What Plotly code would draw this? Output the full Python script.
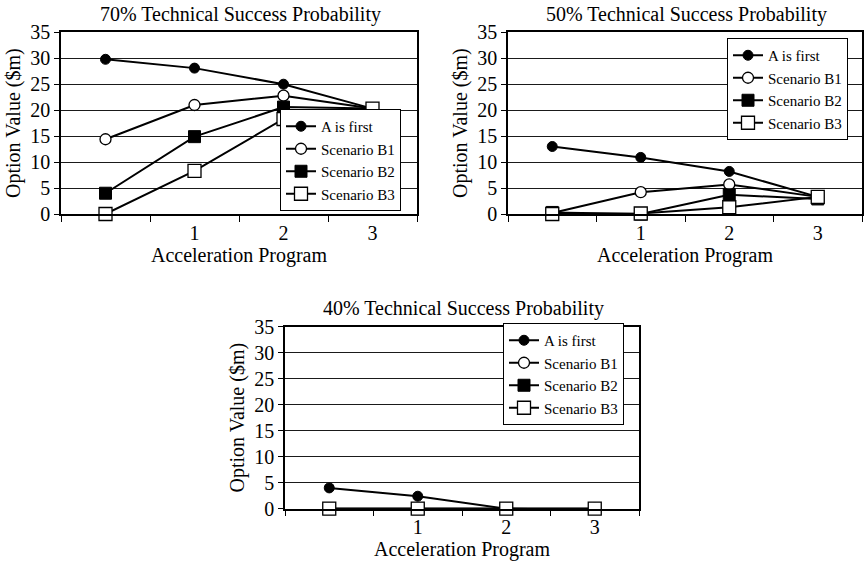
import plotly.graph_objects as go

programs = ["0", "1", "2", "3"]
program_labels = ["", "1", "2", "3"]
series_names = ["A is first", "Scenario B1", "Scenario B2", "Scenario B3"]

titles = ["70% Technical Success Probability",
          "50% Technical Success Probability",
          "40% Technical Success Probability"]

p70_a = [29.8, 28.1, 25.0, 20.3]
p70_b1 = [14.4, 21.0, 22.8, 20.3]
p70_b2 = [4.0, 14.9, 20.6, 20.3]
p70_b3 = [0.0, 8.3, 18.3, 20.3]

p50_a = [13.0, 10.9, 8.2, 3.3]
p50_b1 = [0.2, 4.2, 5.7, 3.3]
p50_b2 = [0.3, 0.0, 3.7, 2.9]
p50_b3 = [0.0, 0.1, 1.3, 3.3]

p40_a = [4.0, 2.4, 0.0, 0.0]
p40_b1 = [0.0, 0.0, 0.0, 0.0]
p40_b2 = [0.0, 0.0, 0.0, -0.2]
p40_b3 = [0.0, 0.0, 0.0, 0.0]

panels = [
    [p70_a, p70_b1, p70_b2, p70_b3],
    [p50_a, p50_b1, p50_b2, p50_b3],
    [p40_a, p40_b1, p40_b2, p40_b3],
]

W, H = 864, 562
FONT = "Liberation Serif, Times New Roman, serif"
FS = 20

# pixel boxes of plot areas: (left, right, top, bottom)
boxes = [(61, 417, 32.3, 214), (508, 862, 32.3, 214), (285, 639, 326.7, 508.7)]
# legend anchors: (x_left, y, yanchor)
legend_pos = [(280, 211, "bottom"), (727, 38, "top"), (503, 323, "top")]
title_pos = [(240, 14), (686, 14), (463, 308)]

marker_styles = [
    dict(symbol="circle", size=10, color="black", line=dict(color="black", width=1)),
    dict(symbol="circle", size=11, color="white", line=dict(color="black", width=1.3)),
    dict(symbol="square", size=12, color="black", line=dict(color="black", width=1)),
    dict(symbol="square", size=13, color="white", line=dict(color="black", width=1.3)),
]

fig = go.Figure()
layout = dict(width=W, height=H,
              margin=dict(l=0, r=0, t=0, b=0, autoexpand=False),
              paper_bgcolor="white", plot_bgcolor="white",
              font=dict(family=FONT, size=FS, color="black"),
              annotations=[], showlegend=True)

for i, (vals, box) in enumerate(zip(panels, boxes)):
    xa = "x" if i == 0 else f"x{i+1}"
    ya = "y" if i == 0 else f"y{i+1}"
    lkey = "legend" if i == 0 else f"legend{i+1}"
    for j, (name, v) in enumerate(zip(series_names, vals)):
        fig.add_trace(go.Scatter(
            x=programs, y=v, name=name, mode="lines+markers",
            xaxis=xa, yaxis=ya, legend=lkey,
            line=dict(color="black", width=2),
            marker=marker_styles[j], cliponaxis=False,
        ))
    l, r, t, b = box
    xkey = "xaxis" if i == 0 else f"xaxis{i+1}"
    ykey = "yaxis" if i == 0 else f"yaxis{i+1}"
    layout[xkey] = dict(
        domain=[l / W, r / W], anchor=ya, type="category",
        categoryorder="array", categoryarray=programs,
        tickmode="array", tickvals=programs, ticktext=program_labels,
        tickson="boundaries", ticks="outside", ticklen=6, tickcolor="black",
        showline=True, linecolor="black", linewidth=1.5, mirror=True,
        showgrid=False, zeroline=False, range=[-0.5, 3.5],
        tickfont=dict(family=FONT, size=FS), automargin=False,
        title=dict(text="Acceleration Program", font=dict(family=FONT, size=FS), standoff=0),
        fixedrange=True,
    )
    layout[ykey] = dict(
        domain=[1 - b / H, 1 - t / H], anchor=xa, range=[0, 35],
        tickvals=[0, 5, 10, 15, 20, 25, 30, 35], ticks="outside", ticklen=5,
        tickcolor="black", showline=True, linecolor="black", linewidth=1.5,
        mirror=True, showgrid=True, gridcolor="#1a1a1a", gridwidth=1.3,
        zeroline=False, tickfont=dict(family=FONT, size=FS), automargin=False,
        title=dict(text="Option Value ($m)", font=dict(family=FONT, size=FS), standoff=4),
        fixedrange=True,
    )
    lx, ly, yanc = legend_pos[i]
    layout[lkey] = dict(
        x=lx / W, y=1 - ly / H, xanchor="left", yanchor=yanc,
        bgcolor="white", bordercolor="black", borderwidth=1,
        font=dict(family=FONT, size=15), tracegroupgap=0,
        itemsizing="trace", itemwidth=30,
    )
    tx, ty = title_pos[i]
    layout["annotations"].append(dict(
        text=titles[i], x=tx / W, y=1 - ty / H, xref="paper", yref="paper",
        xanchor="center", yanchor="middle", showarrow=False,
        font=dict(family=FONT, size=FS),
    ))

fig.update_layout(**layout)
fig.write_html(
    "out.html",
    config={"displayModeBar": False},
    post_script="document.body.style.margin='0';document.body.style.padding='0';",
)
